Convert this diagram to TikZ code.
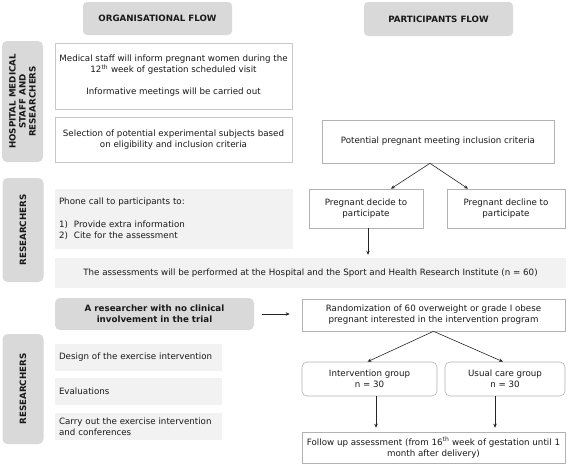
\documentclass[tikz,border=0pt]{standalone}
\usepackage{fontspec}
\setmainfont{DejaVu Sans}
\definecolor{hdrgray}{RGB}{217,217,217}
\definecolor{boxgray}{RGB}{242,242,242}
\definecolor{linegray}{RGB}{200,200,200}
\definecolor{txtdark}{RGB}{25,25,25}
\usetikzlibrary{arrows.meta}
\newcommand{\wk}[1]{#1\textsuperscript{th}}
\newcommand{\numitem}[2]{\makebox[15pt][l]{#1}#2}

\begin{document}
\begin{tikzpicture}[x=1pt, y=-1pt, text=txtdark,
      font=\fontsize{8.7}{11}\selectfont,
      hdr/.style={fill=hdrgray, rounded corners=4pt, align=center, inner sep=2pt,
            font=\fontsize{8.7}{11}\selectfont\bfseries},
      side/.style={hdr, rotate=90, rounded corners=5pt, minimum height=41pt,
            font=\fontsize{8.7}{10}\selectfont\bfseries},
      whitebox/.style={draw=linegray, line width=0.6pt, fill=white, align=center, inner sep=2pt},
      greybox/.style={fill=boxgray, align=left, inner sep=4pt},
      flow/.style={-{Stealth[length=4pt,width=3.5pt]}, line width=0.6pt, black!85}]
      \useasboundingbox (0,0) rectangle (567,467);

      \node[hdr, minimum width=149pt, minimum height=33pt] (orghead) at (157.5,18.5) {ORGANISATIONAL FLOW};
      \node[hdr, minimum width=149pt, minimum height=34pt] (parthead) at (438.5,19) {PARTICIPANTS FLOW};

      \node[side, minimum width=121pt] (staff) at (22.5,101.5) {HOSPITAL MEDICAL\\STAFF AND\\RESEARCHERS};
      \node[side, minimum width=104pt] (resone) at (23,230) {RESEARCHERS};
      \node[side, minimum width=110pt] (restwo) at (23,389) {RESEARCHERS};

      \node[whitebox, minimum width=237pt, minimum height=66pt] (inform) at (173.5,76)
            {Medical staff will inform pregnant women during the\\
             \wk{12} week of gestation scheduled visit\\[11pt]
             Informative meetings will be carried out};
      \node[whitebox, minimum width=237pt, minimum height=45pt] (select) at (173.5,139.5)
            {Selection of potential experimental subjects based\\on eligibility and inclusion criteria};
      \node[greybox, text width=230pt, minimum height=60pt] (phone) at (174,219)
            {Phone call to participants to:\\[12pt]
             \numitem{1)}{Provide extra information}\\
             \numitem{2)}{Cite for the assessment}};
      \node[greybox, align=center, minimum width=511pt, minimum height=30pt] (assess) at (310.5,273)
            {The assessments will be performed at the Hospital and the Sport and Health Research Institute (n = 60)};
      \node[hdr, rounded corners=5pt, minimum width=199pt, minimum height=32pt] (blind) at (154.5,314)
            {A researcher with no clinical\\involvement in the trial};
      \node[greybox, text width=159pt, minimum height=27pt] (design) at (138.5,357.5) {Design of the exercise intervention};
      \node[greybox, text width=159pt, minimum height=27pt] (evalu) at (138.5,391.5) {Evaluations};
      \node[greybox, text width=159pt, minimum height=27pt] (carry) at (138.5,426.5)
            {Carry out the exercise intervention\\and conferences};

      \node[whitebox, draw=black!30, minimum width=232pt, minimum height=43pt] (potential) at (438,141.5)
            {Potential pregnant meeting inclusion criteria};
      \node[whitebox, draw=black!30, minimum width=114pt, minimum height=39pt] (decide) at (366,208.5)
            {Pregnant decide to\\participate};
      \node[whitebox, draw=black!30, minimum width=118pt, minimum height=39pt] (decline) at (506,208.5)
            {Pregnant decline to\\participate};
      \node[whitebox, draw=black!30, minimum width=263pt, minimum height=32pt] (random) at (433.5,315)
            {Randomization of 60 overweight or grade I obese\\pregnant interested in the intervention program};
      \node[whitebox, draw=black!30, rounded corners=5pt, minimum width=135pt, minimum height=34pt] (intgrp) at (369.5,379)
            {Intervention group\\n = 30};
      \node[whitebox, draw=black!30, rounded corners=5pt, minimum width=120pt, minimum height=34pt] (usual) at (505,379)
            {Usual care group\\n = 30};
      \node[whitebox, draw=black!30, minimum width=263pt, minimum height=31pt] (follow) at (433.5,447.5)
            {Follow up assessment (from \wk{16} week of gestation until 1\\month after delivery)};

      \draw[flow] ([xshift=-8pt]potential.south) -- ([xshift=25pt]decide.north);
      \draw[flow] ([xshift=-8pt]potential.south) -- ([xshift=-38pt]decline.north);
      \draw[flow, shorten >=3pt] ([xshift=2pt]decide.south) -- ([xshift=2pt]decide.south |- assess.north);
      \draw[flow, shorten <=8pt, shorten >=12pt] (blind.east) -- (blind.east -| random.west);
      \draw[flow] (random.south) -- ([xshift=-2pt]intgrp.north);
      \draw[flow] (random.south) -- ([xshift=-2pt]usual.north);
      \draw[flow, shorten >=4pt] ([xshift=6.5pt]intgrp.south) -- ([xshift=6.5pt]intgrp.south |- follow.north);
      \draw[flow, shorten >=4pt] ([xshift=-10pt]usual.south) -- ([xshift=-10pt]usual.south |- follow.north);
    \end{tikzpicture}
\end{document}
